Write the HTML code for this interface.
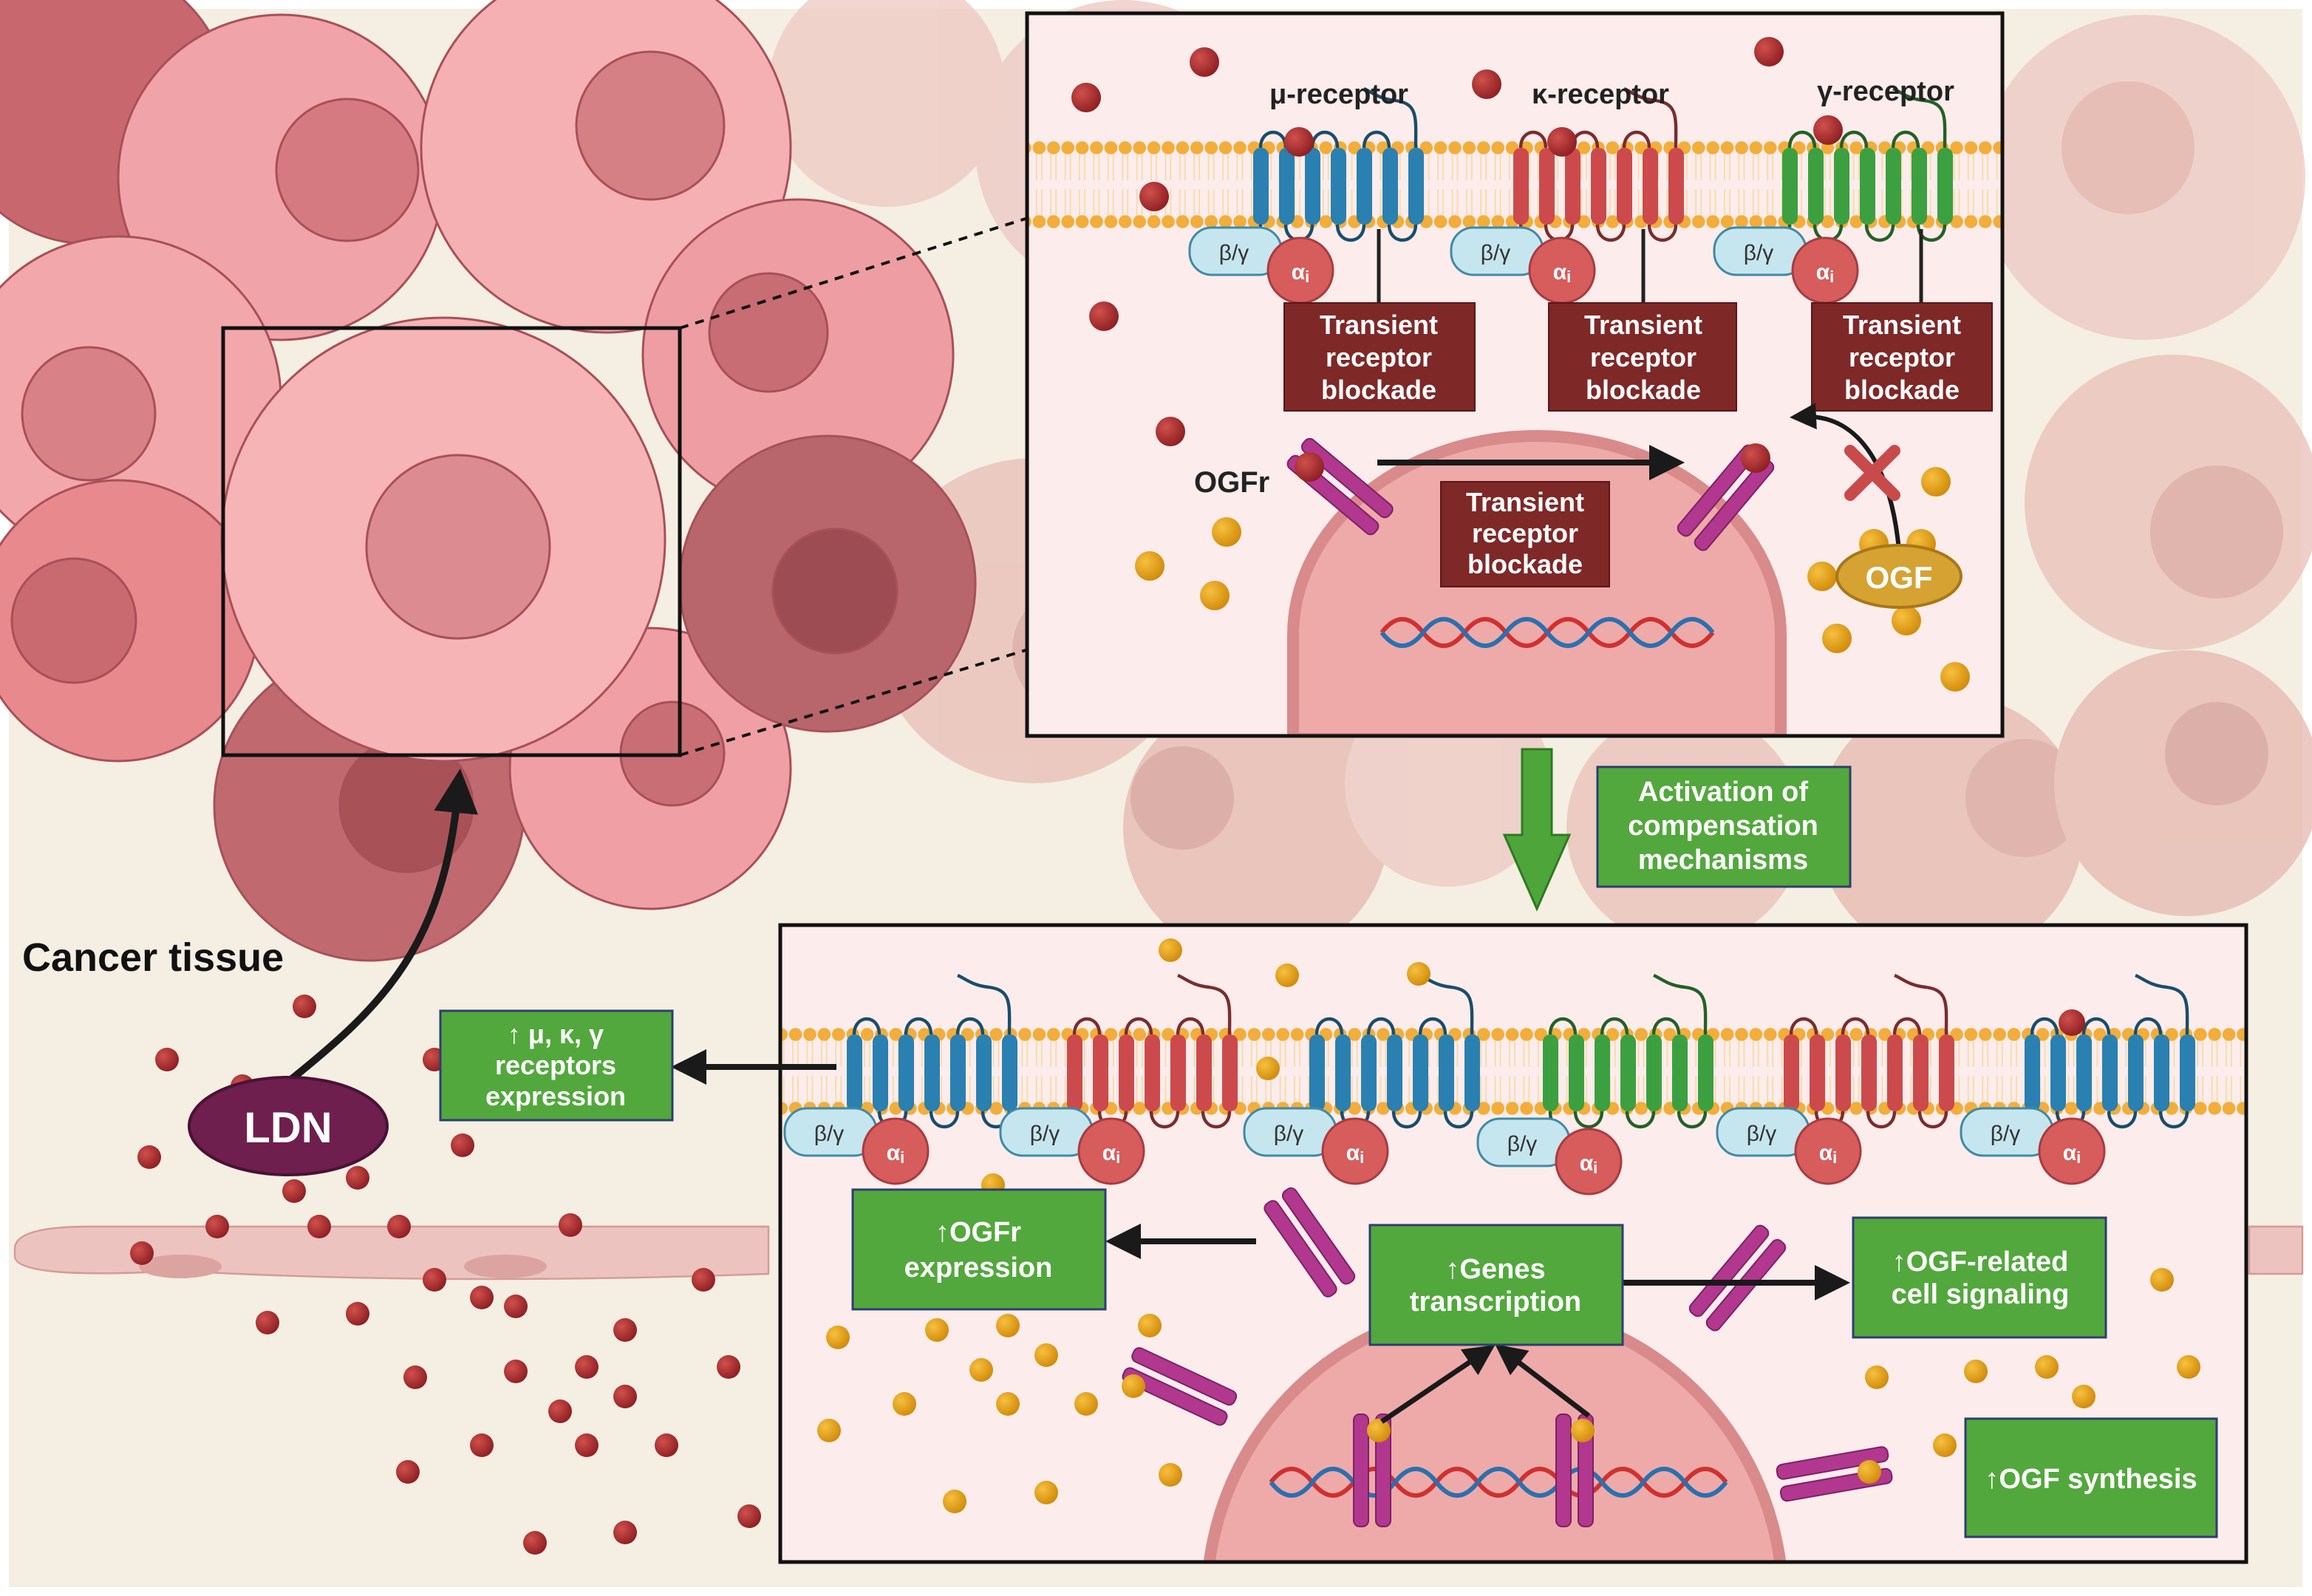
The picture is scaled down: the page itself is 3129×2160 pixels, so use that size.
<!DOCTYPE html>
<html><head><meta charset="utf-8"><style>
html,body{margin:0;padding:0;background:#fff}
svg{display:block}
text{font-family:"Liberation Sans",sans-serif}
</style></head><body>
<svg width="3129" height="2160" viewBox="0 0 1564.5 1080" xmlns="http://www.w3.org/2000/svg">
<defs>
<radialGradient id="rd" cx="0.35" cy="0.35" r="0.7"><stop offset="0" stop-color="#d0504c"/><stop offset="1" stop-color="#8e1e22"/></radialGradient>
<radialGradient id="od" cx="0.35" cy="0.35" r="0.7"><stop offset="0" stop-color="#f7c040"/><stop offset="1" stop-color="#d08a08"/></radialGradient>
<pattern id="mem" x="0" y="35" width="9.7" height="60" patternUnits="userSpaceOnUse">
<line x1="3" y1="8" x2="3" y2="27" stroke="#f6d9a0" stroke-width="0.8"/><line x1="6.5" y1="8" x2="6.5" y2="27" stroke="#f6d9a0" stroke-width="0.8"/>
<line x1="3" y1="33" x2="3" y2="52" stroke="#f6d9a0" stroke-width="0.8"/><line x1="6.5" y1="33" x2="6.5" y2="52" stroke="#f6d9a0" stroke-width="0.8"/>
<circle cx="4.8" cy="5" r="4.4" fill="#f2ad3a"/><circle cx="4.8" cy="55" r="4.4" fill="#f2ad3a"/>
</pattern>
<g id="rec">
<path d="M5,0 C5,-14 22,-14 22,0 M40,0 C40,-14 57,-14 57,0 M75,0 C75,-14 92,-14 92,0 M110,0 C110,-20 112,-30 96,-32 C85,-33 80,-38 75,-40 M22,52 C22,66 40,66 40,52 M57,52 C57,66 75,66 75,52 M92,52 C92,66 110,66 110,52 M5,52 C5,62 10,66 20,70" fill="none" stroke="currentColor" stroke-width="2.2" style="filter:brightness(0.6)"/>
<rect x="0" y="0" width="10.5" height="52" rx="5" fill="currentColor"/>
<rect x="17.5" y="0" width="10.5" height="52" rx="5" fill="currentColor"/>
<rect x="35" y="0" width="10.5" height="52" rx="5" fill="currentColor"/>
<rect x="52.5" y="0" width="10.5" height="52" rx="5" fill="currentColor"/>
<rect x="70" y="0" width="10.5" height="52" rx="5" fill="currentColor"/>
<rect x="87.5" y="0" width="10.5" height="52" rx="5" fill="currentColor"/>
<rect x="105" y="0" width="10.5" height="52" rx="5" fill="currentColor"/>
</g>
<g id="gp">
<rect x="-30" y="-16" width="62" height="32" rx="15" fill="#c6e6ef" stroke="#3f8aa6" stroke-width="1.5"/>
<text x="0" y="6" font-size="15" text-anchor="middle" fill="#333">β/γ</text>
<circle cx="45" cy="13" r="22" fill="#d75c5c" stroke="#a83c40" stroke-width="1.5"/>
<text x="45" y="19" font-size="15" font-weight="bold" text-anchor="middle" fill="#fff">α<tspan font-size="11" dy="2">i</tspan></text>
</g>
<g id="ogfr">
<rect x="-5" y="-38" width="10" height="76" rx="4" fill="#b1388e" stroke="#7e2164" stroke-width="1"/>
<rect x="10" y="-38" width="10" height="76" rx="4" fill="#b1388e" stroke="#7e2164" stroke-width="1"/>
</g>
<marker id="ah" markerWidth="6" markerHeight="6" refX="3" refY="3" orient="auto" markerUnits="strokeWidth"><path d="M0,0 L6,3 L0,6 z" fill="#1a1a1a"/></marker>
<clipPath id="c1"><rect x="695" y="9" width="660" height="489"/></clipPath>
<clipPath id="c2"><rect x="528" y="626" width="992" height="431"/></clipPath>
</defs>

<rect x="6" y="6" width="1552" height="1068" fill="#f4efe2"/>

<g opacity="0.75">
<circle cx="760" cy="100" r="100" fill="#edc8c2"/><circle cx="780" cy="90" r="40" fill="#e2aea8"/>
<circle cx="700" cy="420" r="110" fill="#e8bdb6"/><circle cx="730" cy="440" r="45" fill="#d9a29c"/>
<circle cx="850" cy="560" r="90" fill="#e6b8b0"/><circle cx="800" cy="540" r="35" fill="#d49c96"/>
<circle cx="980" cy="530" r="70" fill="#edc8c2"/>
<circle cx="1140" cy="560" r="80" fill="#e9bfb8"/>
<circle cx="1320" cy="560" r="90" fill="#e6b8b0"/><circle cx="1370" cy="540" r="40" fill="#d9a29c"/>
<circle cx="1450" cy="120" r="110" fill="#edc8c2"/><circle cx="1440" cy="100" r="45" fill="#e2aea8"/>
<circle cx="1470" cy="340" r="100" fill="#e9bfb8"/><circle cx="1500" cy="360" r="45" fill="#d9a29c"/>
<circle cx="1480" cy="530" r="90" fill="#e6b8b0"/><circle cx="1500" cy="510" r="35" fill="#d49c96"/>
<circle cx="600" cy="60" r="80" fill="#eec8c2"/>
</g>

<g stroke="#a85058" stroke-width="1.5">
<circle cx="60" cy="70" r="95" fill="#c8686e"/>
<circle cx="190" cy="120" r="110" fill="#f0a3a8"/><circle cx="235" cy="115" r="48" fill="#d47a80"/>
<circle cx="410" cy="100" r="125" fill="#f4b0b3"/><circle cx="440" cy="85" r="50" fill="#d48085"/>
<circle cx="80" cy="270" r="110" fill="#f2a8ab"/><circle cx="60" cy="280" r="45" fill="#d88288"/>
<circle cx="540" cy="240" r="105" fill="#ee9ea3"/><circle cx="520" cy="225" r="40" fill="#c76d73"/>
<circle cx="80" cy="420" r="95" fill="#e8898e"/><circle cx="50" cy="420" r="42" fill="#c86a70"/>
<circle cx="250" cy="545" r="105" fill="#c06a70"/><circle cx="275" cy="545" r="45" fill="#a85258"/>
<circle cx="440" cy="520" r="95" fill="#f0a0a5"/><circle cx="455" cy="510" r="35" fill="#c96e74"/>
<circle cx="560" cy="395" r="100" fill="#b8666b"/><circle cx="565" cy="400" r="42" fill="#9c4c52"/>
<circle cx="300" cy="365" r="150" fill="#f6b4b6"/><circle cx="310" cy="370" r="62" fill="#dc8c90"/>
</g>
<rect x="151" y="222" width="309" height="289" fill="none" stroke="#111" stroke-width="2.5"/>
<line x1="460" y1="222" x2="694" y2="148" stroke="#111" stroke-width="2" stroke-dasharray="6,5"/>
<line x1="460" y1="511" x2="694" y2="440" stroke="#111" stroke-width="2" stroke-dasharray="6,5"/>

<g fill="#ecc3bf" stroke="#d49a97" stroke-width="1.2">
<path d="M10,845 Q10,830 60,830 L520,830 L520,862 Q300,870 120,860 Q10,866 10,850Z"/>
<path d="M1522,830 L1558,830 L1558,862 L1522,862Z"/>
</g>
<ellipse cx="122" cy="857" rx="28" ry="8" fill="#dca4a1"/><ellipse cx="342" cy="857" rx="28" ry="8" fill="#dca4a1"/>

<g fill="url(#rd)">
<circle cx="206" cy="681" r="8"/><circle cx="113" cy="717" r="8"/><circle cx="294" cy="717" r="8"/><circle cx="101" cy="783" r="8"/><circle cx="242" cy="797" r="8"/><circle cx="313" cy="775" r="8"/><circle cx="199" cy="806" r="8"/><circle cx="147" cy="830" r="8"/><circle cx="216" cy="830" r="8"/><circle cx="270" cy="830" r="8"/><circle cx="386" cy="829" r="8"/><circle cx="96" cy="848" r="8"/><circle cx="294" cy="866" r="8"/><circle cx="326" cy="878" r="8"/><circle cx="349" cy="884" r="8"/><circle cx="476" cy="866" r="8"/><circle cx="181" cy="895" r="8"/><circle cx="242" cy="889" r="8"/><circle cx="423" cy="900" r="8"/><circle cx="281" cy="932" r="8"/><circle cx="349" cy="928" r="8"/><circle cx="397" cy="925" r="8"/><circle cx="493" cy="925" r="8"/><circle cx="379" cy="955" r="8"/><circle cx="423" cy="945" r="8"/><circle cx="326" cy="978" r="8"/><circle cx="397" cy="978" r="8"/><circle cx="451" cy="978" r="8"/><circle cx="276" cy="996" r="8"/><circle cx="423" cy="1037" r="8"/><circle cx="362" cy="1044" r="8"/><circle cx="507" cy="1026" r="8"/><circle cx="164" cy="735" r="8"/>
</g>

<text x="15" y="657" font-size="27" font-weight="bold" fill="#111">Cancer tissue</text>
<path d="M195,732 C260,680 300,640 310,535" fill="none" stroke="#1a1a1a" stroke-width="5" marker-end="url(#ah)"/>
<ellipse cx="195" cy="762" rx="67" ry="33" fill="#6e1f4e" stroke="#4a1234" stroke-width="2"/>
<text x="195" y="773" font-size="29" font-weight="bold" text-anchor="middle" fill="#fff">LDN</text>

<rect x="695" y="9" width="660" height="489" fill="#fcecec"/>
<g clip-path="url(#c1)">
<path d="M875,500 L875,430 A165,135 0 0 1 1205,430 L1205,500Z" fill="#eeaaa8" stroke="#d98a8a" stroke-width="8"/>
<rect x="695" y="95" width="660" height="60" fill="url(#mem)"/>
<use href="#rec" x="848" y="100" color="#2a80b0"/>
<use href="#rec" x="1024" y="100" color="#cc4a4c"/>
<use href="#rec" x="1206" y="100" color="#3ca040"/>
<use href="#gp" x="835" y="170"/><use href="#gp" x="1012" y="170"/><use href="#gp" x="1190" y="170"/>
<g stroke="#222" stroke-width="2.5"><line x1="933" y1="155" x2="933" y2="205"/><line x1="1112" y1="155" x2="1112" y2="205"/><line x1="1300" y1="155" x2="1300" y2="205"/></g>
<g fill="#7e2828" stroke="#5a1616" stroke-width="1">
<rect x="869" y="205" width="129" height="73"/><rect x="1048" y="205" width="127" height="73"/><rect x="1226" y="205" width="122" height="73"/><rect x="975" y="326" width="114" height="71"/>
</g>
<g font-size="18" font-weight="bold" fill="#fff" text-anchor="middle">
<text x="933" y="226">Transient</text><text x="933" y="248">receptor</text><text x="933" y="270">blockade</text>
<text x="1112" y="226">Transient</text><text x="1112" y="248">receptor</text><text x="1112" y="270">blockade</text>
<text x="1287" y="226">Transient</text><text x="1287" y="248">receptor</text><text x="1287" y="270">blockade</text>
<text x="1032" y="346">Transient</text><text x="1032" y="367">receptor</text><text x="1032" y="388">blockade</text>
</g>
<g font-size="19" font-weight="bold" fill="#222" text-anchor="middle">
<text x="906" y="70">μ-receptor</text><text x="1083" y="70">κ-receptor</text><text x="1276" y="68">γ-receptor</text>
</g>
<use href="#ogfr" transform="translate(902,335) rotate(-50)"/>
<use href="#ogfr" transform="translate(1162,332) rotate(40)"/>
<text x="808" y="333" font-size="20" font-weight="bold" fill="#222">OGFr</text>
<line x1="932" y1="313" x2="1128" y2="313" stroke="#1a1a1a" stroke-width="4" marker-end="url(#ah)"/>
<path d="M1285,372 C1280,320 1260,280 1220,282" fill="none" stroke="#1a1a1a" stroke-width="3" marker-end="url(#ah)"/>
<g stroke="#c94a4a" stroke-width="8" stroke-linecap="round"><line x1="1252" y1="305" x2="1282" y2="335"/><line x1="1282" y1="305" x2="1252" y2="335"/></g>
<path d="M935,428 q14,-18 28,0 t28,0 t28,0 t28,0 t28,0 t28,0 t28,0 t28,0" fill="none" stroke="#d03030" stroke-width="3"/>
<path d="M935,428 q14,18 28,0 t28,0 t28,0 t28,0 t28,0 t28,0 t28,0 t28,0" fill="none" stroke="#2a70b0" stroke-width="3"/>
<g fill="url(#rd)">
<circle cx="735" cy="66" r="10"/><circle cx="815" cy="42" r="10"/><circle cx="1006" cy="57" r="10"/><circle cx="1197" cy="35" r="10"/><circle cx="781" cy="133" r="10"/><circle cx="747" cy="214" r="10"/><circle cx="792" cy="292" r="10"/><circle cx="886" cy="316" r="10"/><circle cx="1188" cy="310" r="10"/><circle cx="879" cy="96" r="10"/><circle cx="1057" cy="96" r="10"/><circle cx="1237" cy="88" r="10"/>
</g>
<g fill="url(#od)">
<circle cx="830" cy="360" r="10"/><circle cx="778" cy="383" r="10"/><circle cx="822" cy="403" r="10"/><circle cx="1310" cy="326" r="10"/><circle cx="1233" cy="390" r="10"/><circle cx="1243" cy="432" r="10"/><circle cx="1323" cy="458" r="10"/><circle cx="1290" cy="420" r="10"/><circle cx="1300" cy="368" r="10"/><circle cx="1268" cy="368" r="10"/>
</g>
<ellipse cx="1285" cy="390" rx="42" ry="21" fill="#d6a232" stroke="#a87818" stroke-width="2"/>
<text x="1285" y="398" font-size="21" font-weight="bold" text-anchor="middle" fill="#fff">OGF</text>
</g>
<rect x="695" y="9" width="660" height="489" fill="none" stroke="#111" stroke-width="2.5"/>

<path d="M1030,507 L1050,507 L1050,565 L1062,565 L1040,615 L1018,565 L1030,565Z" fill="#4ea63a" stroke="#2e7a22" stroke-width="1.5"/>
<rect x="1081" y="519" width="171" height="81" fill="#52a83c" stroke="#2e3e70" stroke-width="1.5"/>
<g font-size="19" font-weight="bold" fill="#fff" text-anchor="middle">
<text x="1166" y="542">Activation of</text><text x="1166" y="565">compensation</text><text x="1166" y="588">mechanisms</text>
</g>

<rect x="528" y="626" width="992" height="431" fill="#fcecec"/>
<g clip-path="url(#c2)">
<path d="M818,1060 A195,200 0 0 1 1205,1060Z" fill="#eeaaa8" stroke="#d98a8a" stroke-width="8"/>
<rect x="528" y="695" width="992" height="60" fill="url(#mem)"/>
<use href="#rec" x="573" y="700" color="#2a80b0"/>
<use href="#rec" x="722" y="700" color="#cc4a4c"/>
<use href="#rec" x="886" y="700" color="#2a80b0"/>
<use href="#rec" x="1044" y="700" color="#3ca040"/>
<use href="#rec" x="1207" y="700" color="#cc4a4c"/>
<use href="#rec" x="1370" y="700" color="#2a80b0"/>
<use href="#gp" x="561" y="766"/><use href="#gp" x="707" y="766"/><use href="#gp" x="872" y="766"/><use href="#gp" x="1030" y="773"/><use href="#gp" x="1192" y="766"/><use href="#gp" x="1357" y="766"/>
<circle cx="1402" cy="692" r="9" fill="url(#rd)"/>
<path d="M860,1003 q14,-18 28,0 t28,0 t28,0 t28,0 t28,0 t28,0 t28,0 t28,0 t28,0 t28,0 t28,0" fill="none" stroke="#d03030" stroke-width="3"/>
<path d="M860,1003 q14,18 28,0 t28,0 t28,0 t28,0 t28,0 t28,0 t28,0 t28,0 t28,0 t28,0 t28,0" fill="none" stroke="#2a70b0" stroke-width="3"/>
<use href="#ogfr" transform="translate(921,995)"/>
<use href="#ogfr" transform="translate(1058,995)"/>
<use href="#ogfr" transform="translate(880,845) rotate(-35)"/>
<use href="#ogfr" transform="translate(1170,860) rotate(40)"/>
<use href="#ogfr" transform="translate(795,945) rotate(-65)"/>
<use href="#ogfr" transform="translate(1240,990) rotate(80)"/>
<g fill="url(#od)">
<circle cx="792" cy="643" r="8"/><circle cx="871" cy="660" r="8"/><circle cx="960" cy="659" r="8"/><circle cx="858" cy="723" r="8"/><circle cx="672" cy="802" r="8"/><circle cx="567" cy="905" r="8"/><circle cx="634" cy="900" r="8"/><circle cx="682" cy="897" r="8"/><circle cx="708" cy="917" r="8"/><circle cx="664" cy="927" r="8"/><circle cx="778" cy="897" r="8"/><circle cx="612" cy="950" r="8"/><circle cx="682" cy="950" r="8"/><circle cx="735" cy="950" r="8"/><circle cx="561" cy="968" r="8"/><circle cx="792" cy="998" r="8"/><circle cx="708" cy="1010" r="8"/><circle cx="646" cy="1016" r="8"/><circle cx="767" cy="938" r="8"/><circle cx="933" cy="968" r="8"/><circle cx="1071" cy="968" r="8"/><circle cx="1265" cy="996" r="8"/><circle cx="1463" cy="866" r="8"/><circle cx="1270" cy="932" r="8"/><circle cx="1337" cy="928" r="8"/><circle cx="1385" cy="925" r="8"/><circle cx="1481" cy="925" r="8"/><circle cx="1410" cy="945" r="8"/><circle cx="1316" cy="978" r="8"/>
</g>
<line x1="935" y1="962" x2="1003" y2="916" stroke="#1a1a1a" stroke-width="3.5" marker-end="url(#ah)"/>
<line x1="1075" y1="958" x2="1020" y2="916" stroke="#1a1a1a" stroke-width="3.5" marker-end="url(#ah)"/>
<line x1="850" y1="840" x2="760" y2="840" stroke="#1a1a1a" stroke-width="4" marker-end="url(#ah)"/>
<line x1="1098" y1="868" x2="1240" y2="868" stroke="#1a1a1a" stroke-width="4" marker-end="url(#ah)"/>
<g fill="#52a83c" stroke="#2e3e70" stroke-width="1.5">
<rect x="577" y="805" width="171" height="81"/><rect x="927" y="829" width="171" height="81"/><rect x="1254" y="824" width="171" height="81"/><rect x="1330" y="960" width="170" height="80"/>
</g>
<g font-size="19" font-weight="bold" fill="#fff" text-anchor="middle">
<text x="662" y="840">↑OGFr</text><text x="662" y="864">expression</text>
<text x="1012" y="865">↑Genes</text><text x="1012" y="887">transcription</text>
<text x="1340" y="860">↑OGF-related</text><text x="1340" y="882">cell signaling</text>
<text x="1415" y="1007">↑OGF synthesis</text>
</g>
</g>
<rect x="528" y="626" width="992" height="431" fill="none" stroke="#111" stroke-width="2.5"/>

<line x1="566" y1="722" x2="466" y2="722" stroke="#1a1a1a" stroke-width="4" marker-end="url(#ah)"/>
<rect x="298" y="684" width="157" height="74" fill="#52a83c" stroke="#2e3e70" stroke-width="1.5"/>
<g font-size="18" font-weight="bold" fill="#fff" text-anchor="middle">
<text x="376" y="706">↑ μ, κ, γ</text><text x="376" y="727">receptors</text><text x="376" y="748">expression</text>
</g>
</svg>
</body></html>
